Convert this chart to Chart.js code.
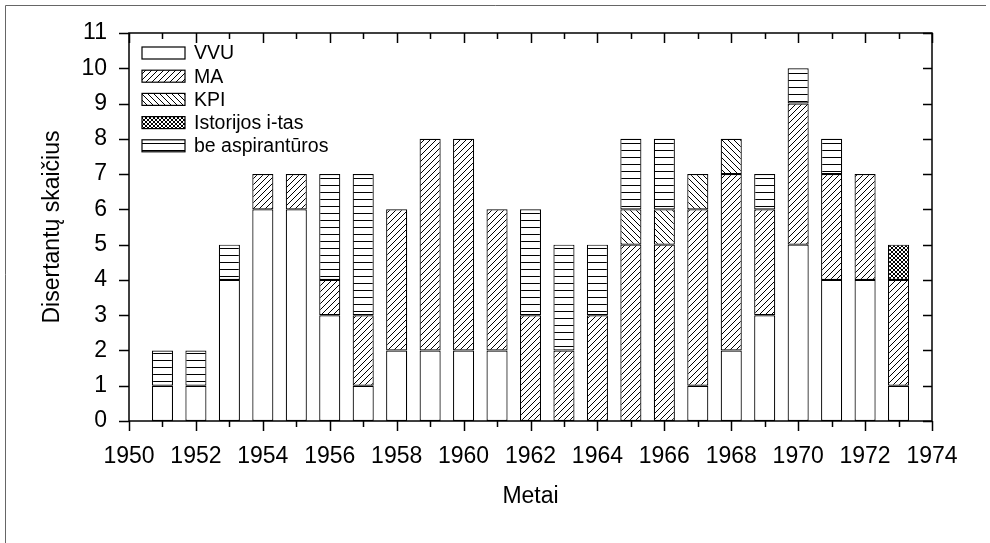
<!DOCTYPE html>
<html lang="lt">
<head>
<meta charset="utf-8">
<title>Disertantų skaičius</title>
<script src="https://cdn.jsdelivr.net/npm/chart.js@4.4.1/dist/chart.umd.min.js"></script>
<style>
  html, body { margin: 0; padding: 0; background: #fff; }
  canvas { display: block; }
</style>
</head>
<body>
<canvas id="diss-chart" width="990" height="543"></canvas>
<script>
// ─── Data ────────────────────────────────────────────────
const years   = [1951, 1952, 1953, 1954, 1955, 1956, 1957, 1958, 1959, 1960, 1961, 1962,
                 1963, 1964, 1965, 1966, 1967, 1968, 1969, 1970, 1971, 1972, 1973];
const vvu     = [1, 1, 4, 6, 6, 3, 1, 2, 2, 2, 2, 0, 0, 0, 0, 0, 1, 2, 3, 5, 4, 4, 1];
const ma      = [0, 0, 0, 1, 1, 1, 2, 4, 6, 6, 4, 3, 2, 3, 5, 5, 5, 5, 3, 4, 3, 3, 3];
const kpi     = [0, 0, 0, 0, 0, 0, 0, 0, 0, 0, 0, 0, 0, 0, 1, 1, 1, 1, 0, 0, 0, 0, 0];
const istInst = [0, 0, 0, 0, 0, 0, 0, 0, 0, 0, 0, 0, 0, 0, 0, 0, 0, 0, 0, 0, 0, 0, 1];
const beAsp   = [1, 1, 1, 0, 0, 3, 4, 0, 0, 0, 0, 3, 3, 2, 2, 2, 0, 0, 1, 1, 1, 0, 0];

const seriesLabels = ['VVU', 'MA', 'KPI', 'Istorijos i-tas', 'be aspirantūros'];
const yTicks = [0, 1, 2, 3, 4, 5, 6, 7, 8, 9, 10, 11];
const xMin = 1950, xMax = 1974;

const FONT = '"Liberation Sans", Arial, sans-serif';

// ─── Hatch patterns ──────────────────────────────────────
function makeHatch(kind) {
  const s = kind === 'h' ? 7 : kind === 'x' ? 4 : 6;
  const c = document.createElement('canvas');
  c.width = s; c.height = s;
  const g = c.getContext('2d');
  g.fillStyle = '#fff';
  g.fillRect(0, 0, s, s);
  g.strokeStyle = '#000';
  g.lineWidth = 1;
  g.beginPath();
  if (kind === '/' || kind === 'x') {
    g.moveTo(0, s); g.lineTo(s, 0);
    g.moveTo(-1, 1); g.lineTo(1, -1);
    g.moveTo(s - 1, s + 1); g.lineTo(s + 1, s - 1);
  }
  if (kind === '\\' || kind === 'x') {
    g.moveTo(0, 0); g.lineTo(s, s);
    g.moveTo(s - 1, -1); g.lineTo(s + 1, 1);
    g.moveTo(-1, s - 1); g.lineTo(1, s + 1);
  }
  if (kind === 'h') {
    g.moveTo(0, 3.5); g.lineTo(s, 3.5);
  }
  g.stroke();
  return g.createPattern(c, 'repeat');
}

const fills = ['#fff', makeHatch('/'), makeHatch('\\'), makeHatch('x'), makeHatch('h')];
const values = [vvu, ma, kpi, istInst, beAsp];

// zeros left out so empty segments draw no outline
const datasets = values.map((arr, i) => ({
  label: seriesLabels[i],
  data: years.map((yr, j) => ({ x: yr, y: arr[j] || null })),
  backgroundColor: fills[i],
  borderColor: '#000',
  borderWidth: 1.2,
  borderSkipped: false,
  stack: 'all',
  categoryPercentage: 1,
  barPercentage: 0.63
}));

// ─── Plugins: frame, ticks, legend ───────────────────────
const framePlugin = {
  id: 'frame',
  beforeDraw(chart) {
    const ctx = chart.ctx;
    ctx.save();
    ctx.strokeStyle = '#666';
    ctx.lineWidth = 1;
    ctx.beginPath();
    ctx.moveTo(5.5, 543); ctx.lineTo(5.5, 5.5); ctx.lineTo(986, 5.5);
    ctx.stroke();
    ctx.restore();
  },
  afterDatasetsDraw(chart) {
    const { ctx, chartArea: a, scales: { x, y } } = chart;
    ctx.save();
    ctx.strokeStyle = '#000';
    ctx.lineWidth = 1.5;
    ctx.strokeRect(a.left, a.top, a.right - a.left, a.bottom - a.top);
    ctx.beginPath();
    for (let v = xMin; v <= xMax; v++) {
      const px = Math.round(x.getPixelForValue(v)) + 0.5;
      const len = v % 2 === 0 ? 10 : 6;
      ctx.moveTo(px, a.bottom); ctx.lineTo(px, a.bottom + len);
      ctx.moveTo(px, a.top);    ctx.lineTo(px, a.top + len);
    }
    yTicks.forEach(v => {
      const py = Math.round(y.getPixelForValue(v)) + 0.5;
      ctx.moveTo(a.left - 10, py); ctx.lineTo(a.left, py);
      ctx.moveTo(a.right, py);     ctx.lineTo(a.right - 9, py);
    });
    ctx.stroke();
    ctx.restore();
  },
  afterDraw(chart) {
    const ctx = chart.ctx;
    ctx.save();
    ctx.font = '19.5px ' + FONT;
    ctx.textBaseline = 'middle';
    chart.data.datasets.forEach((ds, i) => {
      const cy = 53 + i * 23.2;
      ctx.fillStyle = ds.backgroundColor;
      ctx.fillRect(142, cy - 6, 43, 12);
      ctx.strokeStyle = '#000';
      ctx.lineWidth = 1.2;
      ctx.strokeRect(142, cy - 6, 43, 12);
      ctx.fillStyle = '#000';
      ctx.fillText(ds.label, 194, cy + 1);
    });
    ctx.restore();
  }
};

// ─── Chart ───────────────────────────────────────────────
new Chart(document.getElementById('diss-chart'), {
  type: 'bar',
  data: { datasets },
  plugins: [framePlugin],
  options: {
    responsive: false,
    animation: false,
    layout: { padding: { left: 39, top: 33, right: 58, bottom: 33 } },
    plugins: { legend: { display: false }, tooltip: { enabled: false } },
    scales: {
      x: {
        type: 'linear',
        offset: false,
        min: xMin, max: xMax,
        grid: { display: false },
        border: { display: false },
        ticks: { stepSize: 2, color: '#000', padding: 14, font: { family: FONT, size: 23 },
                 callback: v => String(v) },
        title: { display: true, text: 'Metai', color: '#000', padding: 0, font: { family: FONT, size: 23 } },
        afterFit: s => { s.height = 89; }
      },
      y: {
        stacked: true,
        min: 0, max: 11,
        grid: { display: false },
        border: { display: false },
        ticks: { stepSize: 1, color: '#000', padding: 14, font: { family: FONT, size: 23 } },
        title: { display: true, text: 'Disertantų skaičius', color: '#000', padding: 0, font: { family: FONT, size: 23 } },
        afterFit: s => { s.width = 90; }
      }
    }
  }
});
</script>
</body>
</html>
